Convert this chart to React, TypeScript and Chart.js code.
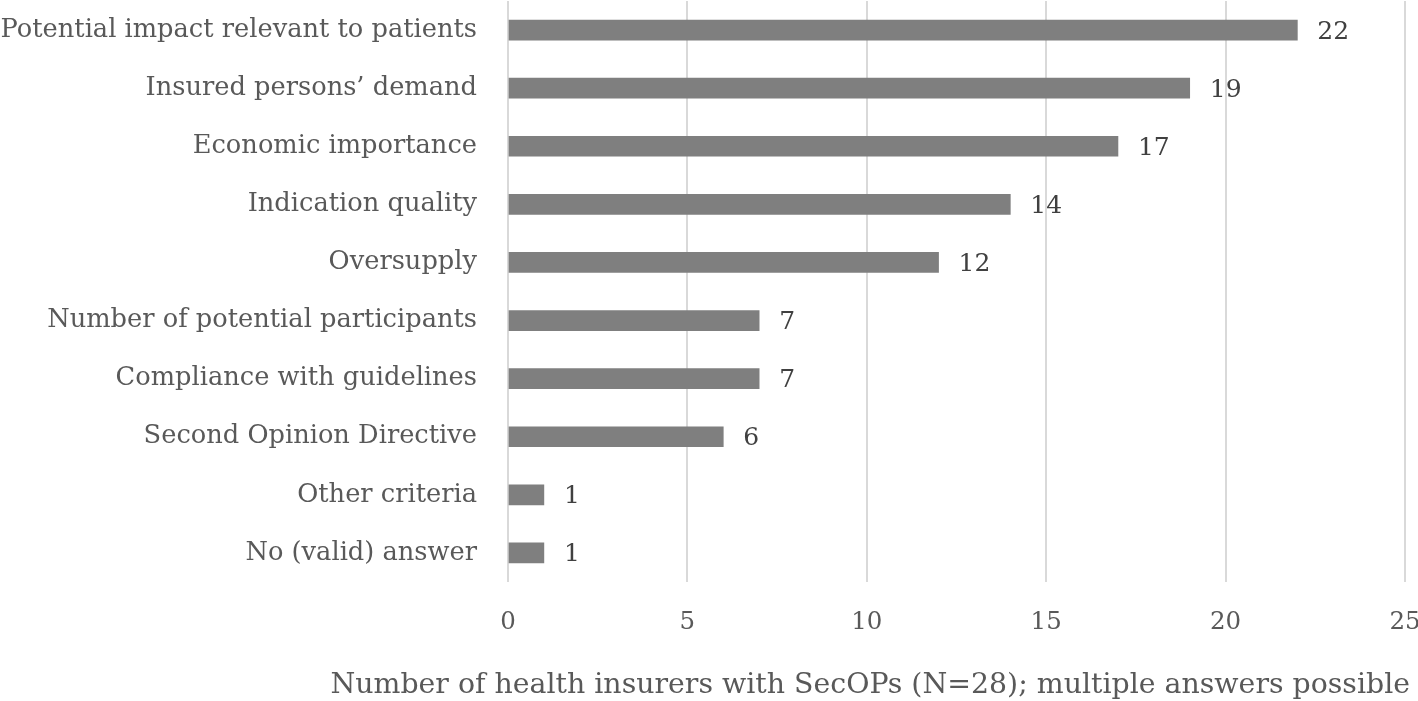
import React, { useEffect, useRef } from "react";
import { Chart, registerables } from "chart.js";

Chart.register(...registerables);

const categories = [
  "Potential impact relevant to patients",
  "Insured persons\u2019 demand",
  "Economic importance",
  "Indication quality",
  "Oversupply",
  "Number of potential participants",
  "Compliance with guidelines",
  "Second Opinion Directive",
  "Other criteria",
  "No (valid) answer",
];
const values = [22, 19, 17, 14, 12, 7, 7, 6, 1, 1];
const axisTitle = "Number of health insurers with SecOPs (N=28); multiple answers possible";
const FONT = "DejaVu Serif";

const valueLabels = {
  id: "valueLabels",
  afterDatasetsDraw(chart: any) {
    const ctx = chart.ctx;
    const meta = chart.getDatasetMeta(0);
    ctx.save();
    ctx.fillStyle = "#404040";
    ctx.font = `25px ${FONT}`;
    ctx.textAlign = "left";
    ctx.textBaseline = "middle";
    meta.data.forEach((bar: any, i: number) => {
      ctx.fillText(String(values[i]), bar.x + 20, bar.y + 2);
    });
    ctx.restore();
  },
};

const xTitle = {
  id: "xTitle",
  afterDraw(chart: any) {
    const ctx = chart.ctx;
    ctx.save();
    ctx.font = `28px ${FONT}`;
    const w = ctx.measureText(axisTitle).width;
    const size = (28 * 1080) / w;
    ctx.font = `${size}px ${FONT}`;
    ctx.fillStyle = "#595959";
    ctx.textAlign = "right";
    ctx.textBaseline = "middle";
    ctx.fillText(axisTitle, 1410, 686);
    ctx.restore();
  },
};

export default function App() {
  const ref = useRef<HTMLCanvasElement>(null);
  useEffect(() => {
    const chart = new Chart(ref.current!, {
      type: "bar",
      data: {
        labels: categories,
        datasets: [
          {
            data: values,
            backgroundColor: "#7f7f7f",
            barThickness: 20,
          },
        ],
      },
      options: {
        indexAxis: "y",
        animation: false,
        responsive: false,
        layout: { padding: { top: 1, right: 13, left: 0, bottom: 0 } },
        plugins: { legend: { display: false }, tooltip: { enabled: false }, title: { display: false } },
        scales: {
          x: {
            min: 0,
            max: 25,
            ticks: { stepSize: 5, color: "#595959", font: { family: FONT, size: 24.5 }, padding: 26 },
            grid: { color: "#d9d9d9", lineWidth: 2, drawTicks: false },
            border: { display: false },
            afterFit(scale: any) {
              scale.height = 119;
              scale.paddingLeft = 0;
              scale.paddingRight = 0;
            },
          },
          y: {
            ticks: { color: "#595959", font: { family: FONT, size: 25.7 }, padding: 31 },
            grid: { display: false, drawTicks: false },
            border: { display: false },
            afterFit(scale: any) {
              scale.width = 508;
              scale.paddingTop = 0;
              scale.paddingBottom = 0;
            },
          },
        },
      },
      plugins: [valueLabels, xTitle],
    });
    return () => chart.destroy();
  }, []);
  return (
    <div style={{ position: "absolute", left: 0, top: 0, width: 1418, height: 701, background: "#fff" }}>
      <canvas ref={ref} width={1418} height={701} style={{ display: "block" }} />
    </div>
  );
}
